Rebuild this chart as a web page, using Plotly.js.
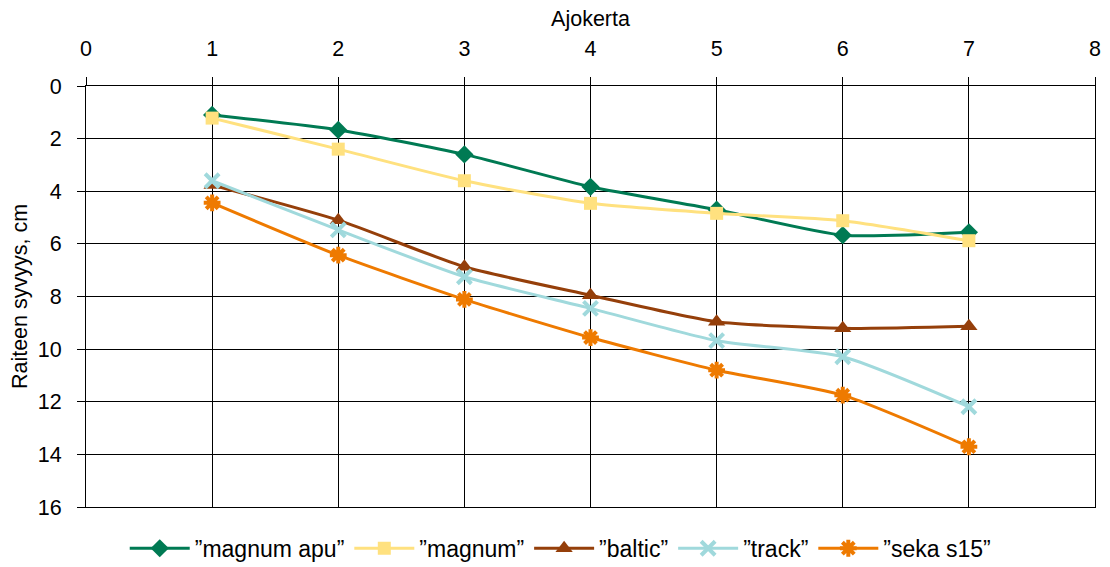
<!DOCTYPE html>
<html>
<head>
<meta charset="utf-8">
<script src="https://cdn.plot.ly/plotly-3.0.1.min.js"></script>
<style>
  html, body { margin: 0; padding: 0; background: #fff; }
  #chart { width: 1110px; height: 567px; }
</style>
</head>
<body>
<div id="chart"></div>
<script>
// Rut depth (cm) after each pass
const passes = [1, 2, 3, 4, 5, 6, 7];
const seriesNames = ['”magnum apu”', '”magnum”', '”baltic”', '”track”', '”seka s15”'];
const magnumApu = [1.1, 1.67, 2.6, 3.83, 4.7, 5.67, 5.56];
const magnum    = [1.22, 2.4, 3.6, 4.46, 4.84, 5.12, 5.88];
const baltic    = [3.76, 5.1, 6.87, 7.95, 8.96, 9.21, 9.13];
const track     = [3.6, 5.47, 7.25, 8.45, 9.68, 10.29, 12.19];
const seka      = [4.44, 6.43, 8.11, 9.56, 10.8, 11.75, 13.71];

const colors  = ['#007A53', '#FFE17F', '#953F0A', '#A0D9DC', '#EE7A00'];
const symbols = ['diamond', 'square', 'triangle-up', 'x-thin-open', 'asterisk-open'];
const sizes   = [14, 13, 15, 14, 14];
const values  = [magnumApu, magnum, baltic, track, seka];

const traces = values.map((v, i) => ({
  x: passes,
  y: v,
  name: seriesNames[i],
  type: 'scatter',
  mode: 'lines+markers',
  line: { color: colors[i], width: 3, shape: 'spline', smoothing: 0.6 },
  marker: {
    symbol: symbols[i], size: sizes[i], color: colors[i],
    line: { color: colors[i], width: (i >= 3) ? 4 : 0 }
  }
}));

const font = { family: 'Liberation Sans, Arial, sans-serif', color: '#000' };
const f21 = Object.assign({ size: 21.5 }, font);

const layout = {
  width: 1110, height: 567,
  paper_bgcolor: '#fff', plot_bgcolor: '#fff',
  margin: { l: 86, r: 15, t: 86, b: 60 },
  showlegend: true,
  legend: {
    orientation: 'h', x: 0.47, xanchor: 'center',
    yref: 'container', y: 0.033, yanchor: 'middle',
    font: Object.assign({ size: 23 }, font),
    itemwidth: 60, tracegroupgap: 0
  },
  xaxis: {
    side: 'top', range: [0, 8], dtick: 1, tick0: 0,
    showgrid: true, gridcolor: '#000', gridwidth: 1,
    zeroline: false, showline: true, linecolor: '#000', mirror: true,
    ticks: 'outside', ticklen: 8, tickcolor: '#000',
    ticklabelstandoff: 12,
    tickfont: f21,
    title: { text: 'Ajokerta', font: f21, standoff: 4 },
    automargin: false, fixedrange: true
  },
  yaxis: {
    range: [16, 0], dtick: 2, tick0: 0,
    showgrid: true, gridcolor: '#000', gridwidth: 1,
    zeroline: false, showline: true, linecolor: '#000', mirror: true,
    ticks: 'outside', ticklen: 8, tickcolor: '#000',
    ticklabelstandoff: 11,
    tickfont: f21,
    title: { text: 'Raiteen syvyys, cm', font: f21, standoff: 4 },
    automargin: false, fixedrange: true
  }
};

Plotly.newPlot('chart', traces, layout, { displayModeBar: false, staticPlot: true });
</script>
</body>
</html>
